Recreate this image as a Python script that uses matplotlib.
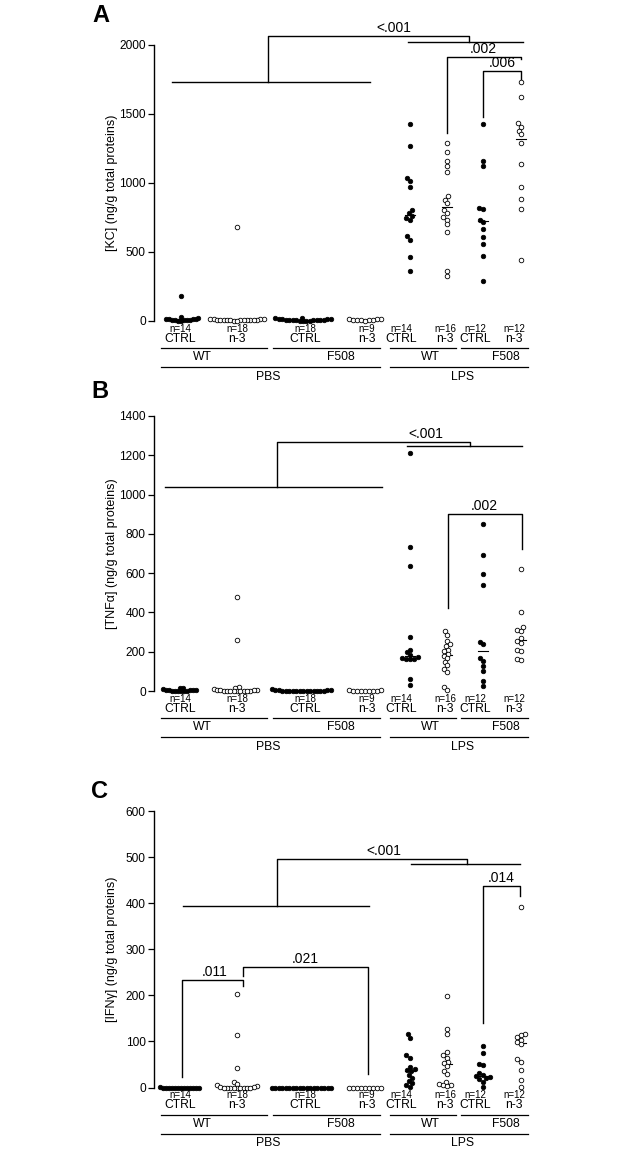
import numpy as np
import matplotlib
matplotlib.use('Agg')
import matplotlib.pyplot as plt

plt.rcParams['font.family'] = ['Liberation Sans', 'DejaVu Sans']

# ---------------- data ----------------
conditions = ['CTRL', 'n-3', 'CTRL', 'n-3', 'CTRL', 'n-3', 'CTRL', 'n-3']
n_labels = ['n=14', 'n=18', 'n=18', 'n=9', 'n=14', 'n=16', 'n=12', 'n=12']
genotypes = ['WT', 'F508', 'WT', 'F508']
treatments = ['PBS', 'LPS']
is_filled = [True, False, True, False, True, False, True, False]

# KC (panel A)
kc_pbs_wt_ctrl = [180, 30, 20, 18, 15, 15, 12, 10, 8, 6, 5, 4, 3, 2]
kc_pbs_wt_n3 = [680, 15, 14, 12, 12, 10, 10, 9, 8, 8, 7, 6, 6, 5, 5, 4, 3, 2]
kc_pbs_f508_ctrl = [25, 20, 18, 16, 15, 12, 10, 9, 8, 7, 6, 5, 5, 4, 3, 3, 2, 1]
kc_pbs_f508_n3 = [15, 14, 12, 10, 8, 6, 5, 4, 3]
kc_lps_wt_ctrl = [1427, 1268, 1033, 1016, 968, 805, 780, 760, 745, 735, 614, 590, 464, 365]
kc_lps_wt_n3 = [1290, 1225, 1160, 1120, 1080, 905, 880, 852, 803, 780, 750, 735, 702, 643, 363, 324]
kc_lps_f508_ctrl = [1427, 1160, 1122, 820, 808, 735, 715, 668, 610, 561, 474, 290]
kc_lps_f508_n3 = [1735, 1622, 1432, 1408, 1380, 1352, 1292, 1137, 972, 885, 815, 440]

# TNFa (panel B)
tnf_pbs_wt_ctrl = [15, 14, 8, 6, 5, 4, 3, 3, 2, 2, 1, 1, 0, 0]
tnf_pbs_wt_n3 = [480, 262, 20, 15, 8, 5, 4, 3, 3, 2, 2, 1, 1, 1, 0, 0, 0, 0]
tnf_pbs_f508_ctrl = [12, 5, 4, 3, 3, 2, 2, 1, 1, 1, 0, 0, 0, 0, 0, 0, 0, 0]
tnf_pbs_f508_n3 = [5, 3, 2, 1, 1, 0, 0, 0, 0]
tnf_lps_wt_ctrl = [1211, 735, 634, 273, 208, 197, 185, 172, 167, 162, 162, 162, 62, 32]
tnf_lps_wt_n3 = [303, 285, 255, 238, 229, 211, 202, 190, 180, 167, 150, 132, 114, 97, 20, 5]
tnf_lps_f508_ctrl = [848, 691, 598, 541, 250, 238, 167, 155, 127, 102, 53, 26]
tnf_lps_f508_n3 = [620, 401, 326, 313, 308, 268, 255, 246, 211, 202, 162, 158]

# IFNg (panel C)
ifn_pbs_wt_ctrl = [2, 0, 0, 0, 0, 0, 0, 0, 0, 0, 0, 0, 0, 0]
ifn_pbs_wt_n3 = [203, 115, 42, 12, 8, 5, 3, 2, 1, 0, 0, 0, 0, 0, 0, 0, 0, 0]
ifn_pbs_f508_ctrl = [0] * 18
ifn_pbs_f508_n3 = [0] * 9
ifn_lps_wt_ctrl = [116, 108, 70, 65, 45, 40, 38, 35, 27, 20, 15, 10, 5, 2]
ifn_lps_wt_n3 = [198, 128, 116, 78, 70, 65, 56, 54, 47, 35, 29, 13, 8, 6, 5, 4]
ifn_lps_f508_ctrl = [90, 74, 51, 49, 31, 27, 24, 22, 20, 18, 13, 2]
ifn_lps_f508_n3 = [392, 116, 114, 109, 104, 99, 94, 61, 56, 38, 17, 2]

kc_groups = [kc_pbs_wt_ctrl, kc_pbs_wt_n3, kc_pbs_f508_ctrl, kc_pbs_f508_n3,
             kc_lps_wt_ctrl, kc_lps_wt_n3, kc_lps_f508_ctrl, kc_lps_f508_n3]
tnf_groups = [tnf_pbs_wt_ctrl, tnf_pbs_wt_n3, tnf_pbs_f508_ctrl, tnf_pbs_f508_n3,
              tnf_lps_wt_ctrl, tnf_lps_wt_n3, tnf_lps_f508_ctrl, tnf_lps_f508_n3]
ifn_groups = [ifn_pbs_wt_ctrl, ifn_pbs_wt_n3, ifn_pbs_f508_ctrl, ifn_pbs_f508_n3,
              ifn_lps_wt_ctrl, ifn_lps_wt_n3, ifn_lps_f508_ctrl, ifn_lps_f508_n3]

# p-values
kc_pvals = ['<.001', '.002', '.006']
tnf_pvals = ['<.001', '.002']
ifn_pvals = ['<.001', '.014', '.011', '.021']

# ---------------- layout (pixel units) ----------------
W, H, DPI = 625, 1150, 100
X0, X1 = 154, 545
group_x = [181, 237, 303, 365, 410, 447, 483, 521]
label_x = [180, 237, 305, 367, 401, 445, 475, 514]
swarm_d = [2.95, 3.35, 3.5, 3.9, 4.2, 4.2, 4.2, 4.2]

fig = plt.figure(figsize=(W / DPI, H / DPI), dpi=DPI)


def swarm(vals, scale, d):
    ys = np.asarray(vals, float) / scale
    xs = np.zeros(len(ys))
    order = np.argsort(ys, kind='stable')
    placed = []
    for i in order:
        y = ys[i]
        iv = []
        for j in placed:
            dy = abs(ys[j] - y)
            if dy < d:
                w = np.sqrt(d * d - dy * dy)
                iv.append((xs[j] - w, xs[j] + w))
        cands = [0.0] + [a for a, b in iv] + [b for a, b in iv]
        cands.sort(key=lambda c: (abs(c), c))
        for c in cands:
            if all(not (a + 1e-6 < c < b - 1e-6) for a, b in iv):
                xs[i] = c
                break
        placed.append(i)
    return xs


def panel(letter, y0, yt, vt, step, groups, ylabel, brackets, plabels):
    scale = vt / (y0 - yt)  # value per pixel
    yb, ytop = y0 + 4, yt - 20
    ax = fig.add_axes([X0 / W, 1 - yb / H, (X1 - X0) / W, (yb - ytop) / H])
    ax.set_xlim(X0, X1)
    ax.set_ylim((y0 - yb) * scale, (y0 - ytop) * scale)
    ax.patch.set_alpha(0)
    for s in ['top', 'right', 'bottom']:
        ax.spines[s].set_visible(False)
    ax.spines['left'].set_bounds(0, vt)
    ax.spines['left'].set_linewidth(1.0)
    ax.set_xticks([])
    ax.set_yticks(np.arange(0, vt + 1, step))
    ax.tick_params(axis='y', direction='out', length=4, width=0.9, labelsize=8.6, pad=2)

    for g, vals in enumerate(groups):
        offs = swarm(vals, scale, swarm_d[g])
        xs = group_x[g] + offs
        med = np.median(vals)
        ax.plot([group_x[g] - 5, group_x[g] + 5], [med, med], color='k', lw=0.8, zorder=2)
        if is_filled[g]:
            ax.plot(xs, vals, 'o', ms=3.3, mfc='k', mec='k', mew=0.5, ls='none', zorder=3, clip_on=False)
        else:
            ax.plot(xs, vals, 'o', ms=3.3, mfc='white', mec='k', mew=0.6, ls='none', zorder=3, clip_on=False)

    def py(dy):
        return -dy * scale

    for g in range(8):
        ax.text(label_x[g], py(8), n_labels[g], ha='center', va='center', fontsize=7)
        ax.text(label_x[g], py(18), conditions[g], ha='center', va='center', fontsize=8.7)
    for a, b in [(161, 267), (273, 380), (390, 456), (461, 528)]:
        ax.plot([a, b], [py(27), py(27)], color='k', lw=0.9, clip_on=False)
    for gx, name in zip([202, 341, 430, 506], genotypes):
        ax.text(gx, py(36.5), name, ha='center', va='center', fontsize=8.7)
    for a, b in [(161, 380), (390, 528)]:
        ax.plot([a, b], [py(46), py(46)], color='k', lw=0.9, clip_on=False)
    for gx, name in zip([268, 462], treatments):
        ax.text(gx, py(56), name, ha='center', va='center', fontsize=8.7)

    for pts in brackets:
        xs, ys = zip(*pts)
        ax.plot(xs, ys, color='k', lw=1.0, clip_on=False, zorder=1)
    for txt, x, y in plabels:
        ax.text(x, y + 1.0 * scale, txt, ha='center', va='bottom', fontsize=10)

    fig.text(112 / W, 1 - ((y0 + yt) / 2) / H, ylabel, rotation=90, ha='center', va='center', fontsize=9)
    return ax


panel('A', 321, 45, 2000, 500, kc_groups, '[KC] (ng/g total proteins)',
      [[(172, 1735), (370, 1735)],
       [(268, 1735), (268, 2066), (469, 2066), (469, 2025)],
       [(408, 2025), (523, 2025)],
       [(447, 1361), (447, 1916), (521, 1916), (521, 1895)],
       [(483, 1481), (483, 1808), (521, 1808), (521, 1750)]],
      [(kc_pvals[0], 394, 2066), (kc_pvals[1], 483, 1916), (kc_pvals[2], 502, 1808)])
fig.text(101 / W, 1 - 15.5 / H, 'A', fontsize=17, fontweight='bold', ha='center', va='center')

panel('B', 691, 416, 1400, 200, tnf_groups, '[TNFα] (ng/g total proteins)',
      [[(165, 1037), (382, 1037)],
       [(277, 1037), (277, 1270), (470, 1270), (470, 1245)],
       [(407, 1245), (522, 1245)],
       [(448, 423), (448, 899), (522, 899), (522, 725)]],
      [(tnf_pvals[0], 426, 1270), (tnf_pvals[1], 484, 899)])
fig.text(100 / W, 1 - 392 / H, 'B', fontsize=17, fontweight='bold', ha='center', va='center')

panel('C', 1087.5, 811, 600, 100, ifn_groups, '[IFNγ] (ng/g total proteins)',
      [[(183, 394), (369, 394)],
       [(277, 394), (277, 495), (467, 495), (467, 484)],
       [(411, 484), (520, 484)],
       [(483, 140), (483, 438), (520, 438), (520, 415)],
       [(182, 22), (182, 233), (243, 233), (243, 220)],
       [(243, 243), (243, 262), (368, 262), (368, 30)]],
      [(ifn_pvals[0], 384, 495), (ifn_pvals[1], 501, 438), (ifn_pvals[2], 215, 233), (ifn_pvals[3], 305, 262)])
fig.text(100 / W, 1 - 792 / H, 'C', fontsize=17, fontweight='bold', ha='center', va='center')

fig.savefig('out.png', dpi=DPI, facecolor='white')
